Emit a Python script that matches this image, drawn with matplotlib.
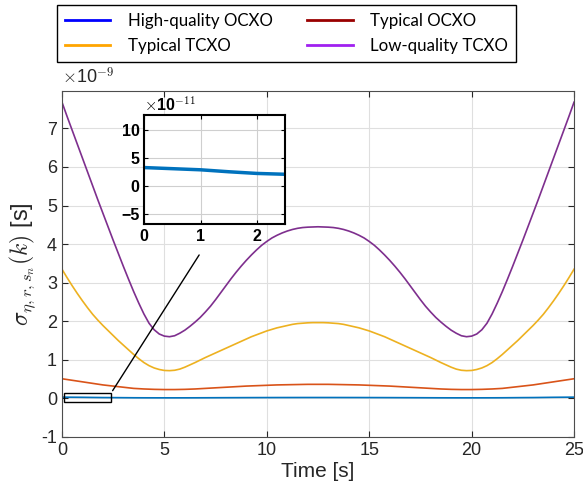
import numpy as np
import matplotlib
matplotlib.use('Agg')
import matplotlib.pyplot as plt
from matplotlib.patches import Rectangle

# Step 1: данные (значения в единицах 1e-9 с)
t_fine = np.arange(0, 25.001, 0.25)
t_coarse = np.arange(0, 25.001, 0.5)

purple = [7.68, 7.31, 6.95, 6.59, 6.23, 5.87, 5.51, 5.15, 4.80, 4.45,
          4.10, 3.76, 3.42, 3.09, 2.77, 2.47, 2.19, 1.95, 1.78, 1.67,
          1.615, 1.60, 1.625, 1.69, 1.77, 1.87, 1.98, 2.10, 2.24, 2.39,
          2.56, 2.74, 2.92, 3.10, 3.27, 3.43, 3.58, 3.72, 3.85, 3.97,
          4.07, 4.16, 4.23, 4.29, 4.34, 4.38, 4.41, 4.43, 4.44, 4.445,
          4.45,
          4.445, 4.44, 4.43, 4.41, 4.38, 4.34, 4.29, 4.23, 4.16, 4.07,
          3.97, 3.85, 3.72, 3.58, 3.43, 3.27, 3.10, 2.92, 2.74, 2.56,
          2.39, 2.24, 2.10, 1.98, 1.87, 1.77, 1.69, 1.625, 1.60, 1.615,
          1.67, 1.78, 1.95, 2.19, 2.47, 2.77, 3.09, 3.42, 3.76, 4.10,
          4.45, 4.80, 5.15, 5.51, 5.87, 6.23, 6.59, 6.95, 7.31, 7.68]
yellow = [3.35, 3.13, 2.92, 2.72, 2.53, 2.35, 2.18, 2.03, 1.89, 1.76,
          1.63, 1.50, 1.38, 1.26, 1.14, 1.03, 0.93, 0.85, 0.79, 0.75,
          0.725, 0.72, 0.73, 0.76, 0.81, 0.87, 0.93, 0.995, 1.06, 1.12,
          1.18, 1.24, 1.30, 1.36, 1.42, 1.48, 1.54, 1.60, 1.65, 1.70,
          1.75, 1.79, 1.83, 1.86, 1.89, 1.92, 1.94, 1.95, 1.96, 1.965,
          1.965,
          1.965, 1.96, 1.95, 1.94, 1.92, 1.89, 1.86, 1.83, 1.79, 1.75,
          1.70, 1.65, 1.60, 1.54, 1.48, 1.42, 1.36, 1.30, 1.24, 1.18,
          1.12, 1.06, 0.995, 0.93, 0.87, 0.81, 0.76, 0.73, 0.72, 0.725,
          0.75, 0.79, 0.85, 0.93, 1.03, 1.14, 1.26, 1.38, 1.50, 1.63,
          1.76, 1.89, 2.03, 2.18, 2.35, 2.53, 2.72, 2.92, 3.13, 3.35]
red = [0.51, 0.47, 0.43, 0.39, 0.35, 0.32, 0.29, 0.26, 0.245, 0.235, 0.23, 0.23, 0.235,
       0.245, 0.26, 0.275, 0.29, 0.305, 0.32, 0.33, 0.34, 0.35, 0.355, 0.36, 0.365, 0.365,
       0.365, 0.36, 0.355, 0.35, 0.34, 0.33, 0.32, 0.305, 0.29, 0.275, 0.26, 0.245, 0.235,
       0.23, 0.23, 0.235, 0.245, 0.26, 0.29, 0.32, 0.35, 0.39, 0.43, 0.47, 0.51]
blue = [0.033, 0.031, 0.029, 0.0255, 0.0225, 0.021, 0.0189, 0.0169, 0.0159, 0.0153, 0.015,
        0.015, 0.0153, 0.0159, 0.0169, 0.0179, 0.0189, 0.0198, 0.0208, 0.0215, 0.0221,
        0.0228, 0.0231, 0.0234, 0.0237, 0.0237, 0.0237, 0.0234, 0.0231, 0.0228, 0.0221,
        0.0215, 0.0208, 0.0198, 0.0189, 0.0179, 0.0169, 0.0159, 0.0153, 0.015, 0.015,
        0.0153, 0.0159, 0.0169, 0.0189, 0.021, 0.0225, 0.0255, 0.029, 0.031, 0.033]

labels = ['High-quality OCXO', 'Typical OCXO', 'Typical TCXO', 'Low-quality TCXO']
legend_colors = ['#0000FF', '#990000', '#FFA500', '#A020F0']
line_colors = ['#0072BD', '#D95319', '#EDB120', '#7E2F8E']

plt.rcParams['font.family'] = ['Liberation Sans', 'DejaVu Sans']
plt.rcParams['mathtext.fontset'] = 'cm'

# Step 2: основной график
fig = plt.figure(figsize=(5.83, 4.93), dpi=100)
ax = fig.add_axes([0.1063, 0.1136, 0.8783, 0.7018])
series = [(t_coarse, blue), (t_coarse, red), (t_fine, yellow), (t_fine, purple)]
for (x, y), c in zip(series, line_colors):
    ax.plot(x, y, color=c, lw=1.2)

ax.set_xlim(0, 25)
ax.set_ylim(-1, 7.97)
ax.set_xticks([0, 5, 10, 15, 20, 25])
ax.set_yticks(range(-1, 8))
ax.set_yticklabels([str(v) for v in range(-1, 8)])
ax.grid(True, color='#DFDFDF', lw=0.8)
ax.set_axisbelow(True)
ax.tick_params(direction='in', top=True, right=True, labelsize=13, colors='#262626',
               length=4, width=0.8)
for s in ax.spines.values():
    s.set_color('#4D4D4D')
    s.set_linewidth(0.8)
ax.set_xlabel('Time [s]', fontsize=15, color='#262626', labelpad=2)
ax.set_ylabel(r'$\sigma_{\eta,r,s_n}(k)$ [s]', fontsize=17, color='#262626', labelpad=2)
ax.text(0.0, 1.01, r'$\times$10$^{-9}$', transform=ax.transAxes, fontsize=13,
        color='#262626', ha='left', va='bottom')

# прямоугольник увеличения и линия к врезке
ax.add_patch(Rectangle((0.1, -0.08), 2.3, 0.22, fill=False, ec='black', lw=1.0, zorder=5))
ax.annotate('', xy=(2.4, 0.14), xytext=(6.77, 3.78),
            arrowprops=dict(arrowstyle='-', color='black', lw=1.0))

# легенда (matplotlib заполняет по столбцам)
order = [0, 2, 1, 3]
handles = [plt.Line2D([], [], color=legend_colors[i], lw=2) for i in order]
fig.legend(handles, [labels[i] for i in order], ncol=2, loc='upper left',
           bbox_to_anchor=(57 / 583, 1 - 5 / 493), borderaxespad=0,
           prop={'family': 'Lato', 'size': 12.2}, frameon=True, fancybox=False,
           edgecolor='black', framealpha=1, handlelength=2.7, handletextpad=1.05,
           columnspacing=2.0, borderpad=0.45, labelspacing=0.55)

# Step 3: врезка
axi = fig.add_axes([0.2475, 0.5456, 0.2413, 0.2211])
axi.plot(t_coarse, np.array(blue) * 100, color='#0072BD', lw=2.5)
axi.set_xlim(0, 2.5)
axi.set_ylim(-6.8, 12.7)
axi.set_xticks([0, 1, 2])
axi.set_yticks([-5, 0, 5, 10])
axi.grid(True, color='#CFCFCF', lw=0.8)
axi.tick_params(direction='in', top=True, right=True, labelsize=11.5, length=3)
for lab in axi.get_xticklabels() + axi.get_yticklabels():
    lab.set_fontweight('bold')
for s in axi.spines.values():
    s.set_linewidth(1.5)
axi.text(0.0, 1.01, r'$\times$10$^{-11}$', transform=axi.transAxes, fontsize=11.5,
         fontweight='bold', ha='left', va='bottom')

fig.savefig('out.png', dpi=100)
